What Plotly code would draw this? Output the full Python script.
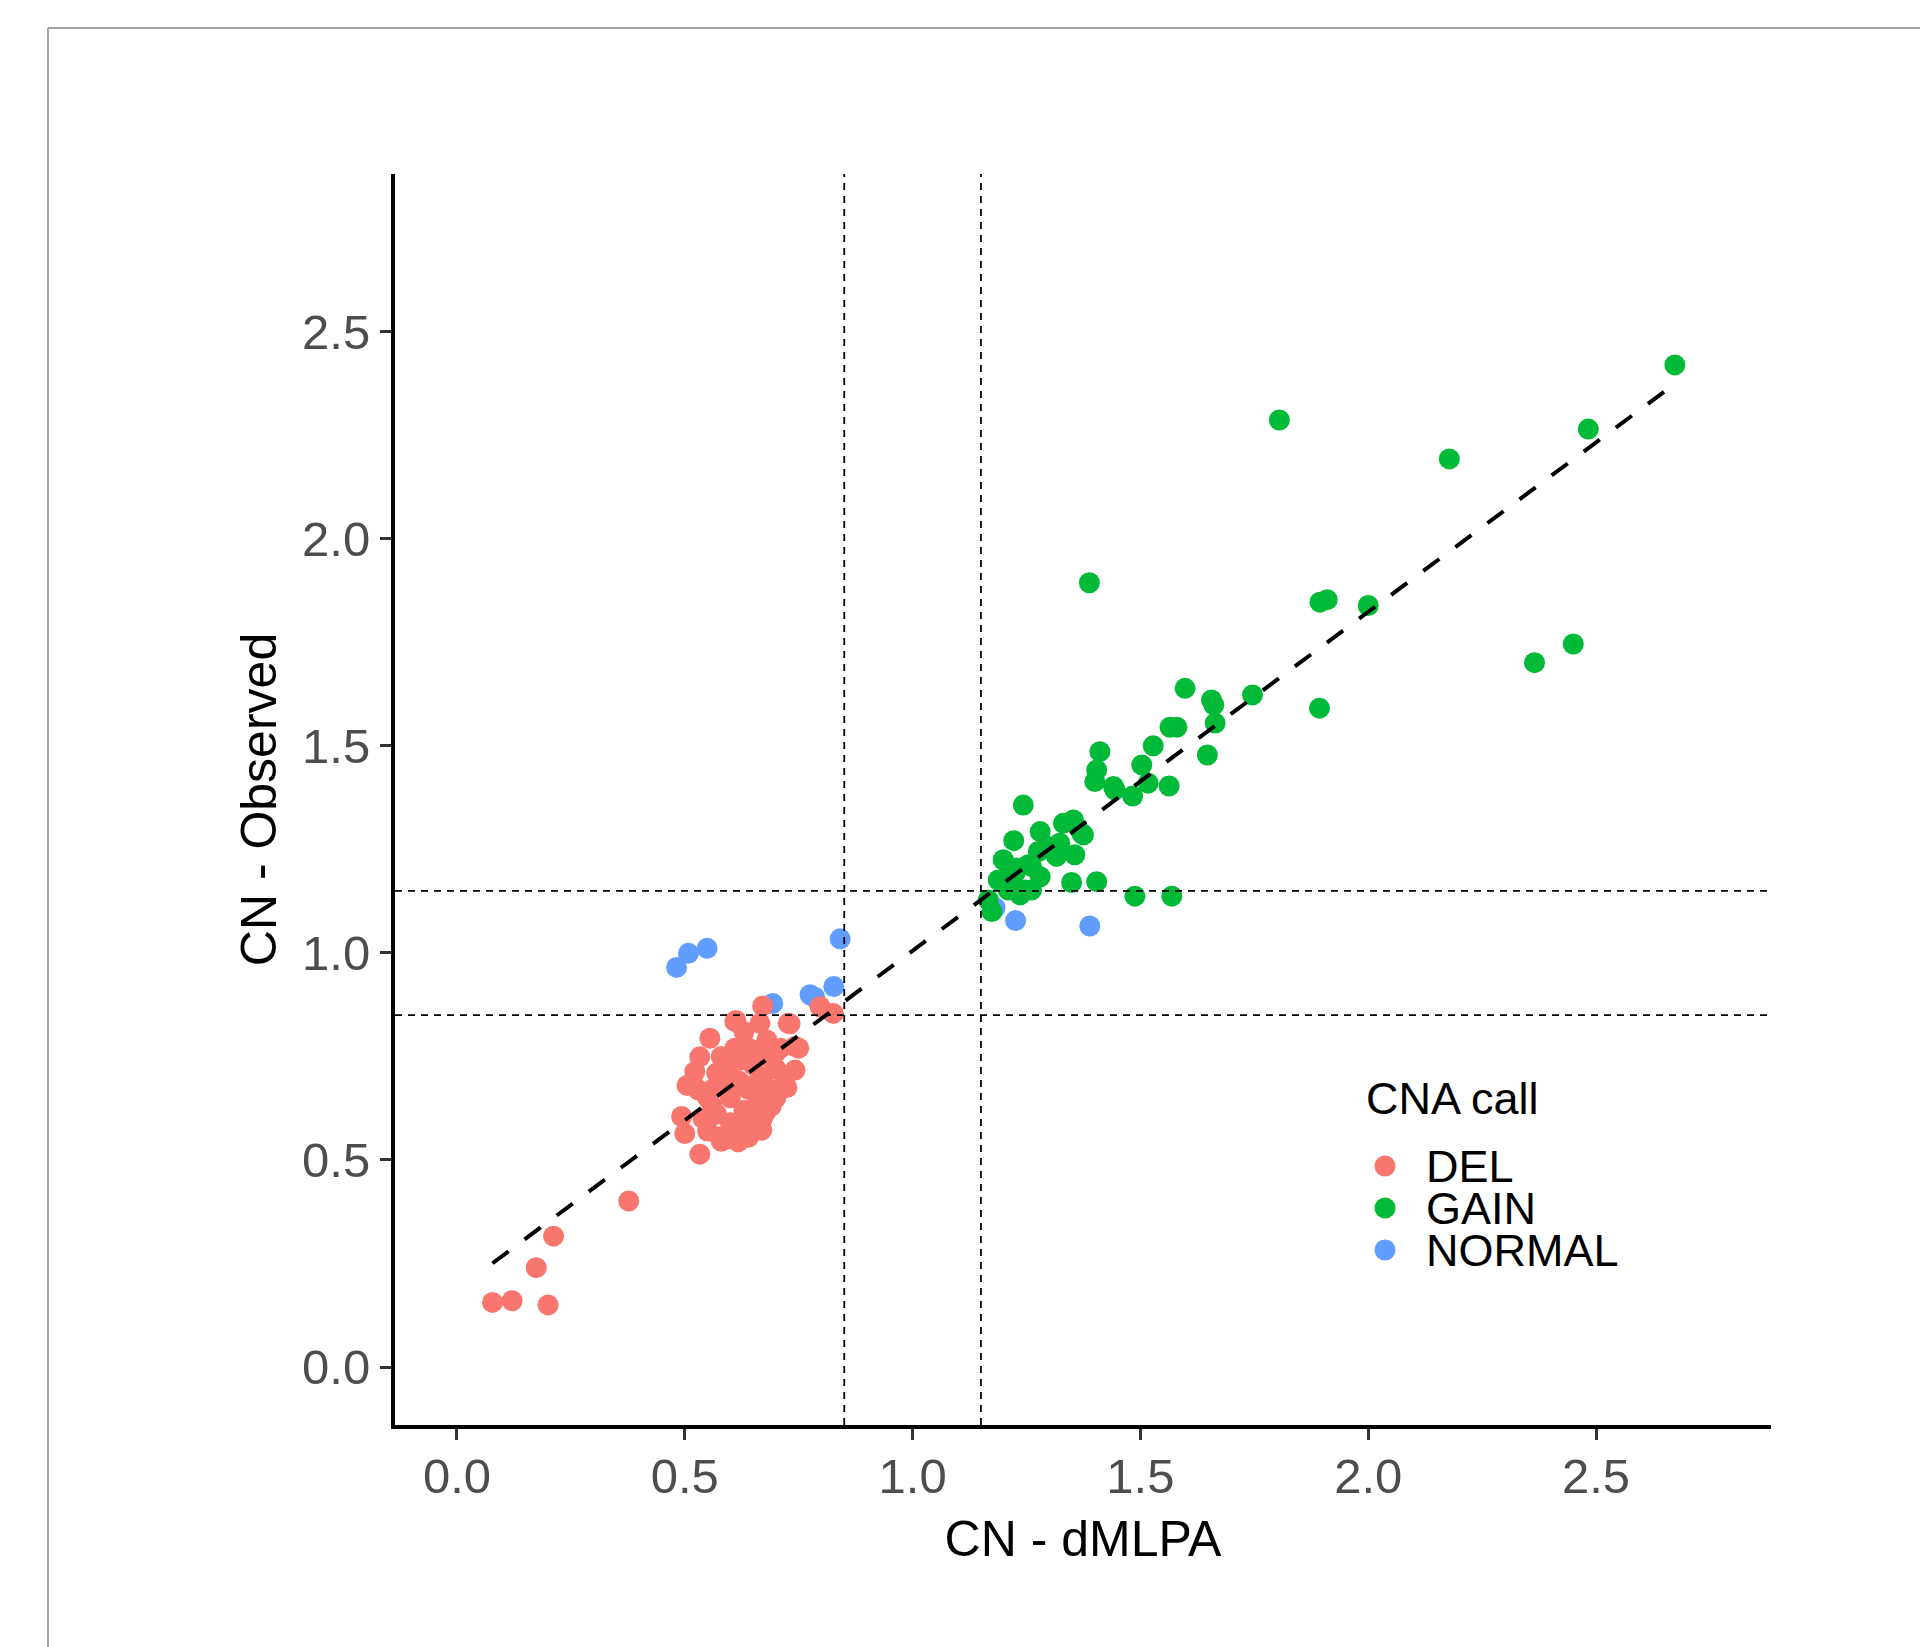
import numpy as np
import plotly.graph_objects as go

# ---------------- data ----------------
del_x = [0.078, 0.121, 0.200, 0.174, 0.212, 0.377,
         0.533, 0.500, 0.493, 0.577, 0.617, 0.665, 0.669, 0.654, 0.694, 0.742, 0.742,
         0.727, 0.671, 0.665, 0.612, 0.555, 0.533, 0.522, 0.530, 0.797, 0.826, 0.731,
         0.610, 0.505, 0.750, 0.724, 0.676,
         0.55, 0.57, 0.56, 0.58, 0.60, 0.60, 0.62, 0.63, 0.62, 0.64, 0.65, 0.66, 0.67,
         0.68, 0.69, 0.70, 0.71, 0.68, 0.64, 0.60, 0.58, 0.56, 0.59, 0.63, 0.67, 0.70,
         0.72, 0.62, 0.57, 0.54, 0.55, 0.61, 0.65, 0.69, 0.60, 0.63, 0.58, 0.64, 0.70,
         0.67]
del_y = [0.156, 0.160, 0.150, 0.240, 0.316, 0.401,
         0.514, 0.564, 0.605, 0.556, 0.544, 0.580, 0.572, 0.601, 0.653, 0.717, 0.774,
         0.830, 0.872, 0.830, 0.837, 0.794, 0.749, 0.713, 0.669, 0.870, 0.854, 0.829,
         0.834, 0.680, 0.770, 0.675, 0.613,
         0.57, 0.61, 0.67, 0.69, 0.65, 0.59, 0.56, 0.62, 0.69, 0.67, 0.73, 0.65, 0.70,
         0.75, 0.67, 0.72, 0.77, 0.79, 0.77, 0.74, 0.75, 0.63, 0.55, 0.59, 0.60, 0.65,
         0.70, 0.74, 0.71, 0.60, 0.65, 0.77, 0.68, 0.63, 0.70, 0.81, 0.545, 0.555, 0.76,
         0.77]

gain_x = [1.805, 2.178, 2.673, 2.483, 1.894, 1.910, 2.000, 2.365, 2.450, 1.746, 1.656,
          1.388, 1.893, 1.661, 1.647, 1.488, 1.569, 1.598, 1.664, 1.580, 1.565, 1.528,
          1.411, 1.404, 1.400, 1.441, 1.483, 1.503, 1.517, 1.563, 1.444, 1.371,
          1.243, 1.280, 1.331, 1.353, 1.375, 1.356, 1.316, 1.222, 1.199, 1.188, 1.174,
          1.166, 1.236, 1.261, 1.280, 1.261, 1.228, 1.214, 1.349, 1.404, 1.298, 1.323,
          1.276, 1.254, 1.247, 1.210, 1.225]
gain_y = [2.287, 2.193, 2.420, 2.265, 1.847, 1.853, 1.839, 1.701, 1.746, 1.623, 1.611,
          1.894, 1.591, 1.599, 1.478, 1.137, 1.137, 1.639, 1.555, 1.545, 1.545, 1.500,
          1.486, 1.442, 1.414, 1.402, 1.379, 1.454, 1.410, 1.403, 1.394, 1.289,
          1.357, 1.293, 1.313, 1.321, 1.285, 1.237, 1.233, 1.271, 1.225, 1.176, 1.100,
          1.128, 1.140, 1.152, 1.184, 1.209, 1.205, 1.184, 1.170, 1.172, 1.257, 1.265,
          1.245, 1.213, 1.152, 1.152, 1.193]

normal_x = [0.482, 0.508, 0.549, 0.841, 0.693, 0.775, 0.785, 0.827, 1.226, 1.389, 1.181]
normal_y = [0.965, 0.999, 1.011, 1.034, 0.878, 0.899, 0.893, 0.919, 1.078, 1.065, 1.109]

thresholds = [0.85, 1.15]
x_ticks = [0.0, 0.5, 1.0, 1.5, 2.0, 2.5]
y_ticks = [0.0, 0.5, 1.0, 1.5, 2.0, 2.5]
categories = ["DEL", "GAIN", "NORMAL"]
colors = {"DEL": "#F8766D", "GAIN": "#00BA38", "NORMAL": "#619CFF"}

# ---------------- figure ----------------
FONT = "Liberation Sans, Arial, sans-serif"
OFF = 8  # page body margin
W, H = 1928, 1647
L, R, T, B = 395 - OFF, 1771 - OFF, 174 - OFF, 1425 - OFF
PW, PH = R - L, B - T

def px(X):
    return (X - OFF - L) / PW

def py(Y):
    return (B - (Y - OFF)) / PH

fig = go.Figure()

series = {"DEL": (del_x, del_y), "GAIN": (gain_x, gain_y), "NORMAL": (normal_x, normal_y)}
for cat in ["NORMAL", "DEL", "GAIN"]:
    xs, ys = series[cat]
    fig.add_trace(go.Scatter(
        x=xs, y=ys, mode="markers", name=cat, showlegend=False,
        marker=dict(size=21, color=colors[cat], line=dict(width=0)),
    ))

# linear fit over all points (geom_smooth lm)
all_x = np.array(del_x + gain_x + normal_x)
all_y = np.array(del_y + gain_y + normal_y)
slope, intercept = np.polyfit(all_x, all_y, 1)
fx = np.array([all_x.min(), all_x.max()])
fig.add_trace(go.Scatter(
    x=fx, y=intercept + slope * fx, mode="lines", showlegend=False,
    line=dict(color="black", width=4, dash="20px,20px"), hoverinfo="skip",
))

# threshold dashed lines
for t in thresholds:
    fig.add_vline(x=t, line=dict(color="black", width=1.8, dash="7px,6px"))
    fig.add_hline(y=t, line=dict(color="black", width=1.8, dash="7px,6px"))

# outer gray frame (top and left edges)
frame = "#a9a3a9"
fig.add_shape(type="line", xref="paper", yref="paper",
              x0=px(48), x1=px(1960), y0=py(28), y1=py(28),
              line=dict(color=frame, width=2), layer="above")
fig.add_shape(type="line", xref="paper", yref="paper",
              x0=px(48), x1=px(48), y0=py(28), y1=py(1680),
              line=dict(color=frame, width=2), layer="above")

# manual legend (ggplot style)
fig.add_annotation(xref="paper", yref="paper", x=px(1364), y=py(1098),
                   text="CNA call", showarrow=False, xanchor="left", yanchor="middle",
                   height=40, valign="middle",
                   font=dict(family=FONT, size=45, color="black"))
for i, cat in enumerate(categories):
    cy = 1166 + 42 * i
    fig.add_shape(type="circle", xref="paper", yref="paper",
                  xsizemode="pixel", ysizemode="pixel",
                  xanchor=px(1385), yanchor=py(cy),
                  x0=-10.5, x1=10.5, y0=-10.5, y1=10.5,
                  fillcolor=colors[cat], line=dict(width=0))
    fig.add_annotation(xref="paper", yref="paper", x=px(1424), y=py(cy),
                       text=cat, showarrow=False, xanchor="left", yanchor="middle",
                       height=40, valign="middle",
                       font=dict(family=FONT, size=45, color="black"))

axis_common = dict(
    showgrid=False, zeroline=False, showline=True, linecolor="black", linewidth=4,
    ticks="outside", ticklen=11, tickwidth=3, tickcolor="#333333",
    tickfont=dict(family=FONT, size=49, color="#4D4D4D"),
    automargin=False, mirror=False,
)

fig.update_layout(
    width=W, height=H,
    margin=dict(l=L, r=W - R, t=T, b=H - B),
    paper_bgcolor="white", plot_bgcolor="white",
    template=None,
    showlegend=False,
    xaxis=dict(range=[-0.136, 2.884], tickvals=x_ticks,
               ticktext=[f"{v:.1f}" for v in x_ticks],
               ticklabelstandoff=-6,
               title=dict(text="CN - dMLPA", font=dict(family=FONT, size=50, color="black"), standoff=20),
               **axis_common),
    yaxis=dict(range=[-0.140, 2.881], tickvals=y_ticks,
               ticktext=[f"{v:.1f}" for v in y_ticks],
               title=dict(text="CN - Observed", font=dict(family=FONT, size=50, color="black"), standoff=11),
               **axis_common),
)

fig.write_html("out.html")
